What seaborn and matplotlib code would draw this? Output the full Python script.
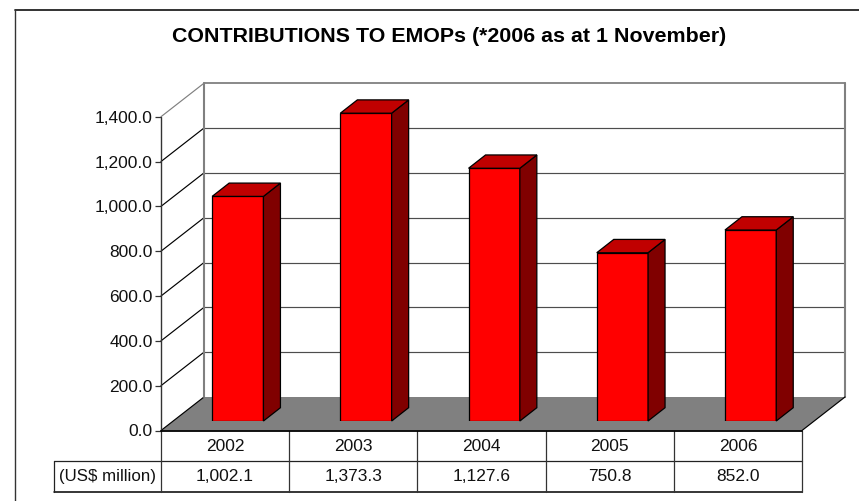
import matplotlib
matplotlib.use("Agg")
import matplotlib.pyplot as plt
from matplotlib.lines import Line2D
from matplotlib.patches import Polygon
import pandas as pd
import seaborn as sns

years = ["2002", "2003", "2004", "2005", "2006"]
contributions = [1002.1, 1373.3, 1127.6, 750.8, 852.0]
value_labels = ["1,002.1", "1,373.3", "1,127.6", "750.8", "852.0"]
y_ticks = [0, 200, 400, 600, 800, 1000, 1200, 1400]
title = "CONTRIBUTIONS TO EMOPs (*2006 as at 1 November)"
row_label = "(US$ million)"

W, H = 859, 501
sns.set_theme(style="white")
plt.rcParams["font.family"] = ["Liberation Sans", "DejaVu Sans"]
plt.rcParams["text.color"] = "#111111"

fig = plt.figure(figsize=(W / 100, H / 100), dpi=100)


def rect(l, t, r, b):
    return [l / W, 1 - b / H, (r - l) / W, (b - t) / H]


# page frame: only the top and left edges fall inside the picture
fig.add_artist(Line2D([14.5 / W, 1], [1 - 10 / H] * 2, transform=fig.transFigure, color="#222222", lw=1.3))
fig.add_artist(Line2D([14.5 / W] * 2, [0, 1 - 10 / H], transform=fig.transFigure, color="#333333", lw=1.0))

# Front plane axes: carries value scale, walls, floor and data table
L, R, Y0, Y1 = 161, 802, 430.5, 116.7
front = fig.add_axes(rect(L, Y1, R, Y0), zorder=1)
front.patch.set_visible(False)
front.set_xlim(-0.5, 4.5)
front.set_ylim(0, 1400)
for s in front.spines.values():
    s.set_visible(False)

unit_x = (R - L) / 5          # px per category
unit_y = (Y0 - Y1) / 1400     # px per value unit
wall_dx = 43 / unit_x         # depth of the plot box in data units
wall_dy = 33.5 / unit_y
x0, x1 = -0.5, 4.5
grey = "#808080"

# floor
front.add_patch(Polygon([(x0, 0), (x1, 0), (x1 + wall_dx, wall_dy), (x0 + wall_dx, wall_dy)],
                        closed=True, facecolor=grey, edgecolor="none", clip_on=False))
# gridlines: back wall and diagonal on the left wall
for v in y_ticks:
    col = grey if v == y_ticks[-1] else "black"
    front.plot([x0, x0 + wall_dx], [v, v + wall_dy], color=col, lw=0.85, clip_on=False, zorder=2)
    if v:
        gc = grey if v == y_ticks[-1] else "#4d4d4d"
        lw = 1.3 if v == y_ticks[-1] else 0.85
        front.plot([x0 + wall_dx, x1 + wall_dx], [v + wall_dy] * 2, color=gc, lw=lw,
                   clip_on=False, zorder=2)
# wall verticals
for xx in (x0 + wall_dx, x1 + wall_dx):
    front.plot([xx, xx], [wall_dy, y_ticks[-1] + wall_dy], color=grey, lw=1.5, clip_on=False, zorder=2)
# floor outline, value axis
front.plot([x1, x1 + wall_dx], [0, wall_dy], color="black", lw=0.85, clip_on=False, zorder=2)
front.plot([x0, x0], [0, y_ticks[-1]], color="#333333", lw=1.0, clip_on=False, zorder=3)

front.set_yticks(y_ticks)
front.set_yticklabels([f"{v:,.1f}" for v in y_ticks])
front.tick_params(axis="y", length=4.3, width=0.9, color="#333333", left=True, pad=1.5,
                  labelsize=12.5, labelcolor="#111111")

# data table
row = 30.5 / unit_y
front.set_xticks(range(5))
front.set_xticklabels(years)
front.tick_params(axis="x", length=0, pad=6, labelsize=12.5, labelcolor="#111111")
tbl_left = x0 - (L - 53.5) / unit_x
front.plot([x0, x1], [0, 0], color="black", lw=1.3, clip_on=False, zorder=3)
front.plot([tbl_left, x1], [-row, -row], color="#222222", lw=0.9, clip_on=False)
front.plot([tbl_left, x1], [-2 * row, -2 * row], color="black", lw=1.1, clip_on=False)
front.plot([tbl_left, tbl_left], [-row, -2 * row], color="#222222", lw=0.9, clip_on=False)
for i in range(6):
    front.plot([x0 + i] * 2, [0, -2 * row], color="#333333", lw=0.9, clip_on=False)
for i, lab in enumerate(value_labels):
    front.text(i, -1.5 * row, lab, ha="center", va="center", fontsize=12.5, clip_on=False)
front.text((tbl_left + x0) / 2, -1.5 * row, row_label, ha="center", va="center",
           fontsize=12.2, clip_on=False)

# Bar plane axes: sits partway into the floor
shift_x, shift_y = 12.7, 9.5
bars = fig.add_axes(rect(L + shift_x, Y1 - shift_y, R + shift_x, Y0 - shift_y), zorder=2)
bars.patch.set_visible(False)
df = pd.DataFrame({"year": years, "value": contributions})
sns.barplot(data=df, x="year", y="value", ax=bars, color="#ff0000", saturation=1, width=0.4,
            edgecolor="black", linewidth=0.9, errorbar=None)
bars.set_xlim(-0.5, 4.5)
bars.set_ylim(0, 1400)
bars.axis("off")

dx = 17 / unit_x
dy = 13.3 / unit_y
for p in list(bars.patches):
    bx, bw, h = p.get_x(), p.get_width(), p.get_height()
    bars.add_patch(Polygon([(bx + bw, 0), (bx + bw + dx, dy), (bx + bw + dx, h + dy), (bx + bw, h)],
                           closed=True, facecolor="#800000", edgecolor="black", lw=0.9, clip_on=False))
    bars.add_patch(Polygon([(bx, h), (bx + bw, h), (bx + bw + dx, h + dy), (bx + dx, h + dy)],
                           closed=True, facecolor="#c00000", edgecolor="black", lw=0.9, clip_on=False))

fig.text(449 / W, 1 - 37 / H, title, ha="center", va="center", fontsize=15.4, fontweight="bold",
         color="black")

fig.savefig("out.png", dpi=100)
